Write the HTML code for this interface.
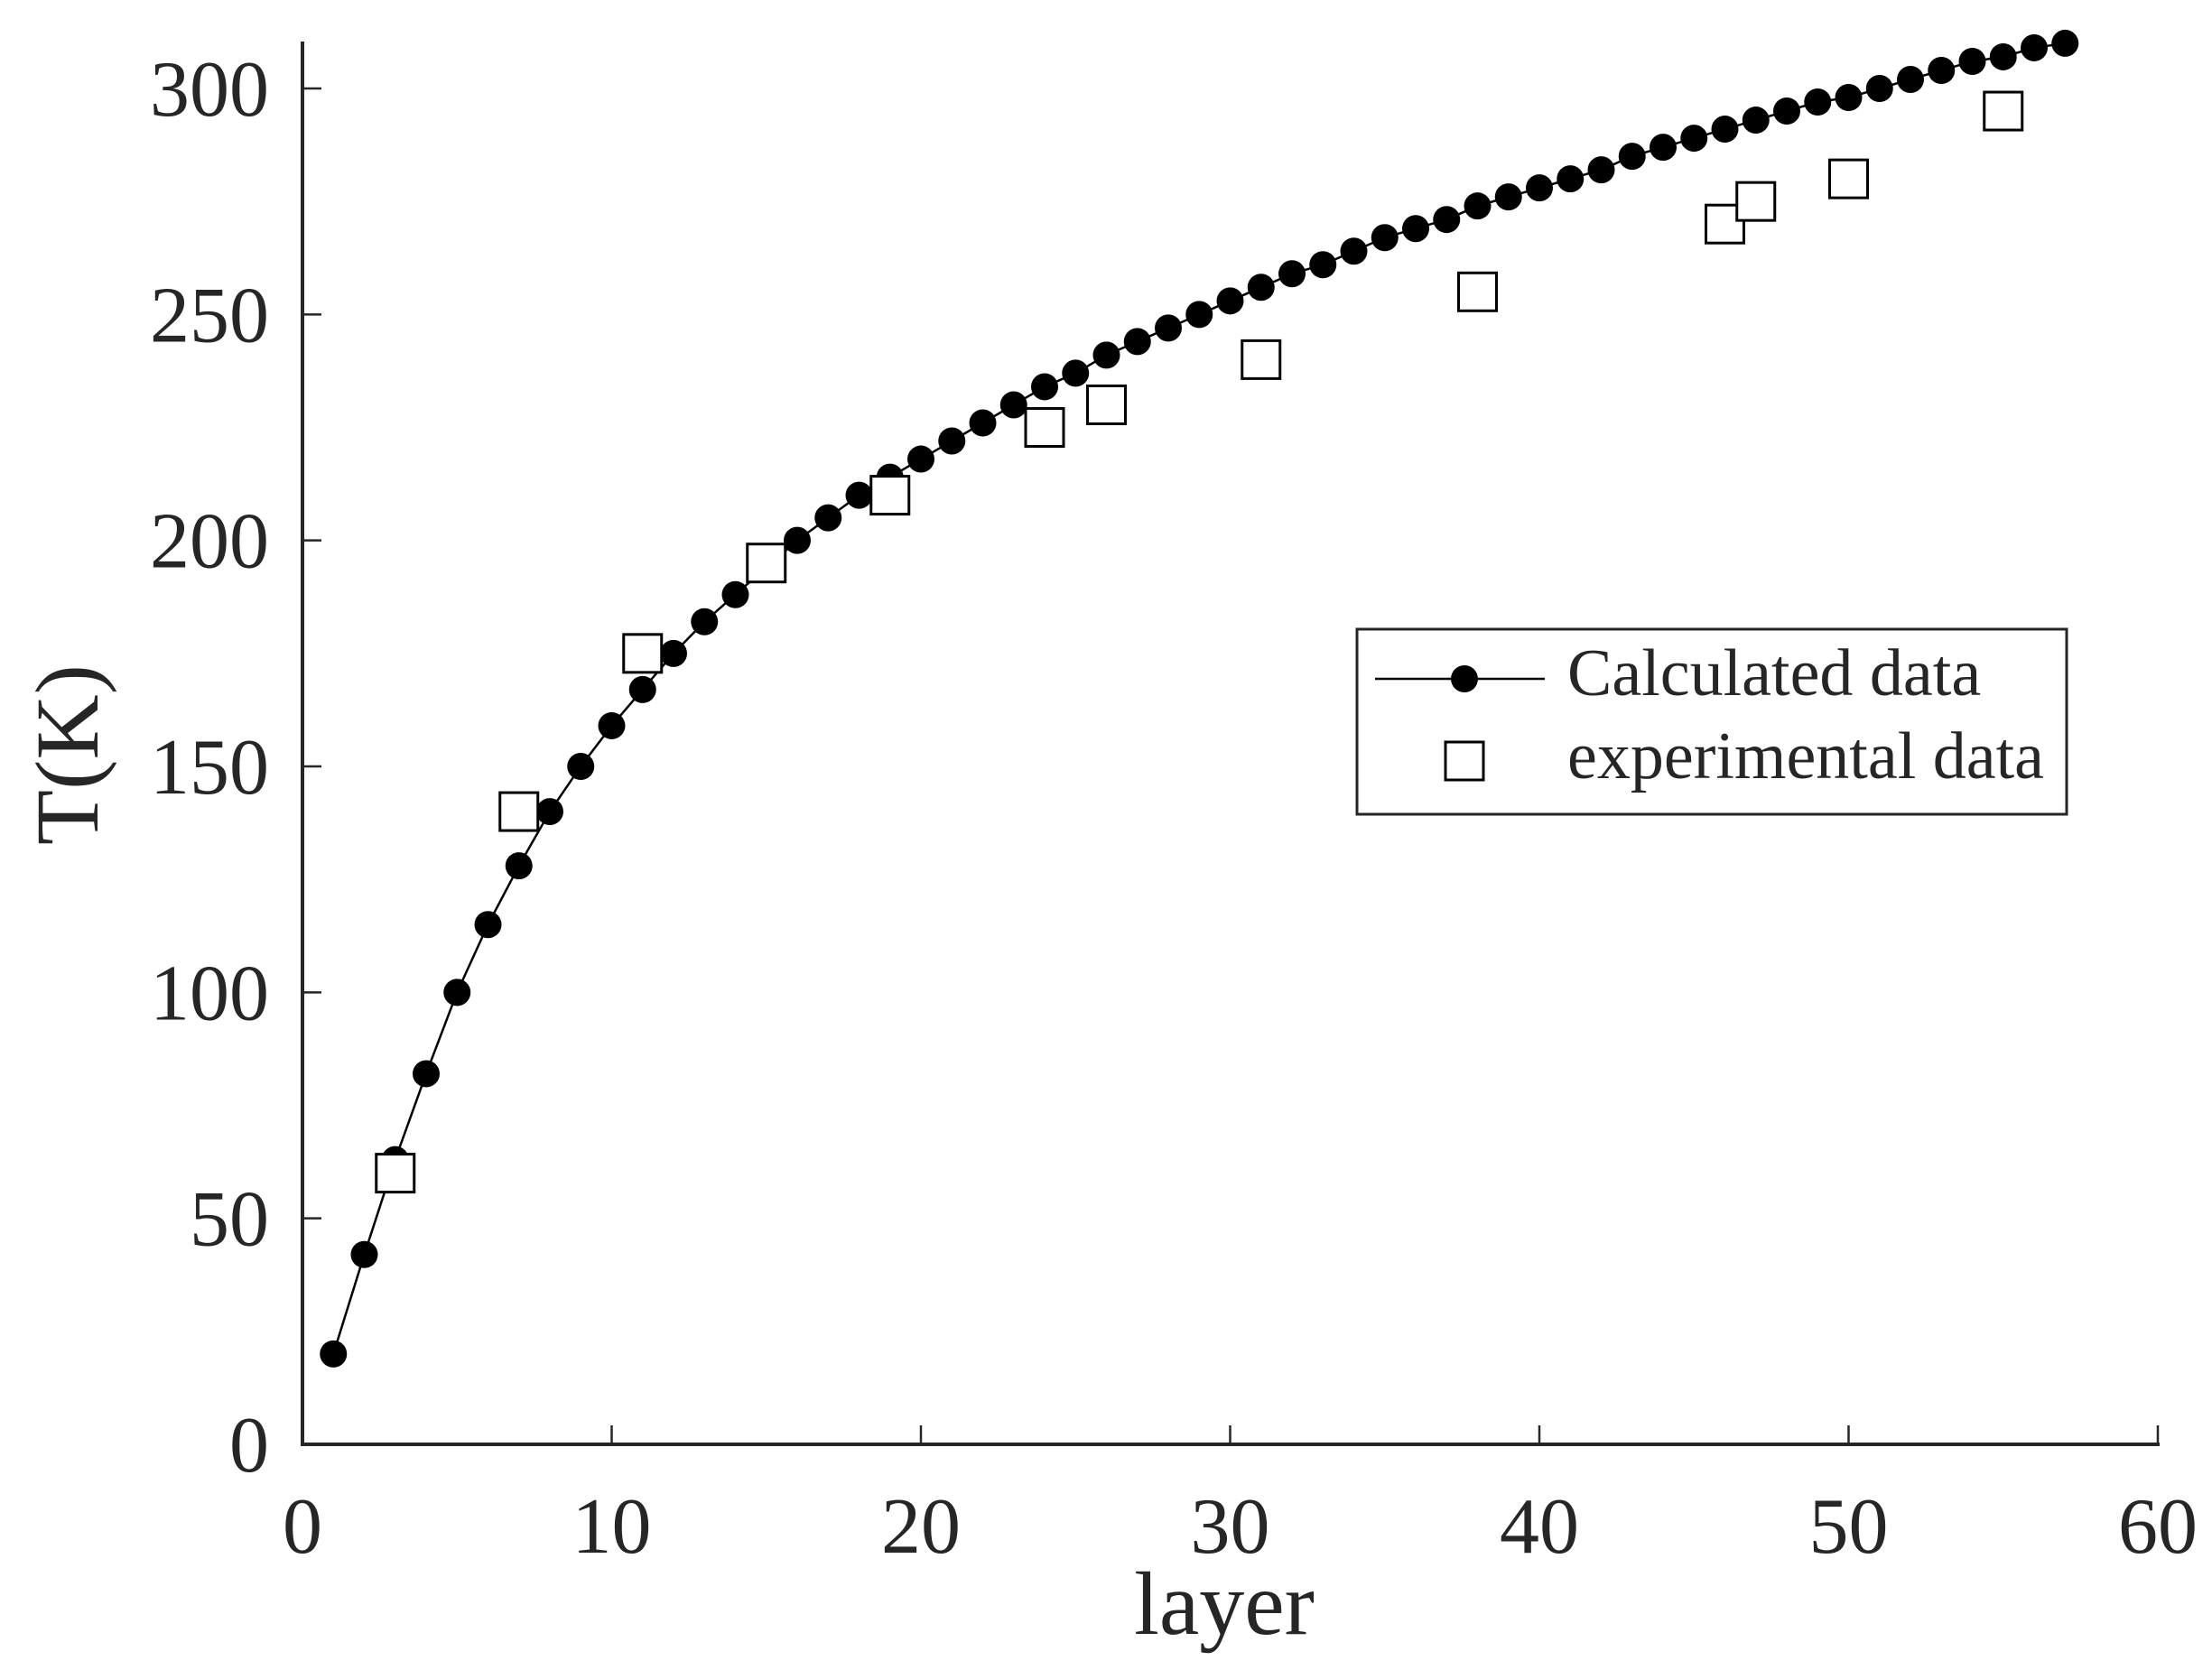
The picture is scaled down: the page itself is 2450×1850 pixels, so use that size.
<!DOCTYPE html>
<html><head><meta charset="utf-8"><style>
html,body{margin:0;padding:0;background:#fff;width:2450px;height:1850px;overflow:hidden}
svg{display:block}
text{font-family:"Liberation Serif",serif;fill:#262626}
</style></head><body>
<svg id="chart" width="2450" height="1850" viewBox="0 0 2450 1850" xmlns="http://www.w3.org/2000/svg">
<g id="axes"></g>
<g id="series"></g>
<text x="1356" y="1810" font-size="100" text-anchor="middle">layer</text>
<text transform="translate(108,836) rotate(-90)" font-size="100" text-anchor="middle">T(K)</text>
<g>
<rect x="1503" y="697" width="786" height="205" fill="#fff" stroke="#262626" stroke-width="3"/>
<line x1="1523" y1="752" x2="1711" y2="752" stroke="#000" stroke-width="2.5"/>
<circle cx="1622" cy="752" r="15" fill="#000"/>
<text x="1736" y="770" font-size="74">Calculated data</text>
<rect x="1601" y="822" width="42" height="42" fill="#fff" stroke="#000" stroke-width="3"/>
<text x="1736" y="862" font-size="74">experimental data</text>
</g>
</svg>
<script>
const calcLayers = [];
for (let i = 1; i <= 57; i++) calcLayers.push(i);
const calcValues = [20,42,63,82,100,115,128,140,150,159,167,175,182,188,194,200,205,210,214,218,222,226,230,234,237,241,244,247,250,253,256,259,261,264,267,269,271,274,276,278,280,282,285,287,289,291,293,295,297,298,300,302,304,306,307,309,310];
const expLayers = [3,7,11,15,19,24,26,31,38,46,47,50,55];
const expValues = [60,140,175,195,210,225,230,240,255,270,275,280,295];
const xTicks = [0,10,20,30,40,50,60];
const yTicks = [0,50,100,150,200,250,300];

const NS = "http://www.w3.org/2000/svg";
const X0 = 335, X1 = 2390, Y0 = 1600, Y300 = 98;
const xs = v => X0 + (v / 60) * (X1 - X0);
const ys = v => Y0 - (v / 300) * (Y0 - Y300);
function mk(tag, attrs, parent) {
  const e = document.createElementNS(NS, tag);
  for (const k in attrs) e.setAttribute(k, attrs[k]);
  parent.appendChild(e);
  return e;
}
const axes = document.getElementById('axes');
const series = document.getElementById('series');
const col = '#262626';
let el;
el = mk('line', {x1: X0, y1: 46, x2: X0, y2: Y0, stroke: col, 'stroke-width': 4}, axes);


el = mk('line', {x1: X0 - 2, y1: Y0, x2: X1 + 2, y2: Y0, stroke: col, 'stroke-width': 4}, axes);


xTicks.forEach(t => {
  const x = xs(t);
  let tk = mk('line', {x1: x, y1: Y0, x2: x, y2: Y0 - 21, stroke: col, 'stroke-width': 2.5}, axes);
  
  
  let lb = mk('text', {x: x, y: 1720, 'font-size': 88, 'text-anchor': 'middle'}, axes);
  lb.textContent = t;
  
  
});
yTicks.forEach(t => {
  const y = ys(t);
  let tk = mk('line', {x1: X0, y1: y, x2: X0 + 21, y2: y, stroke: col, 'stroke-width': 2.5}, axes);
  
  
  let lb = mk('text', {x: 298, y: y + 30, 'font-size': 88, 'text-anchor': 'end'}, axes);
  lb.textContent = t;
  
  
});
const pts = calcLayers.map((l, i) => xs(l) + ',' + ys(calcValues[i])).join(' ');
el = mk('polyline', {points: pts, fill: 'none', stroke: '#000', 'stroke-width': 2.5}, series);


calcLayers.forEach((l, i) => {
  const c = mk('circle', {cx: xs(l), cy: ys(calcValues[i]), r: 15, fill: '#000'}, series);
  
  
});
expLayers.forEach((l, i) => {
  const s = 42;
  const r = mk('rect', {x: xs(l) - s / 2, y: ys(expValues[i]) - s / 2, width: s, height: s, fill: '#fff', stroke: '#000', 'stroke-width': 3}, series);
  
  
});
</script>
</body></html>
